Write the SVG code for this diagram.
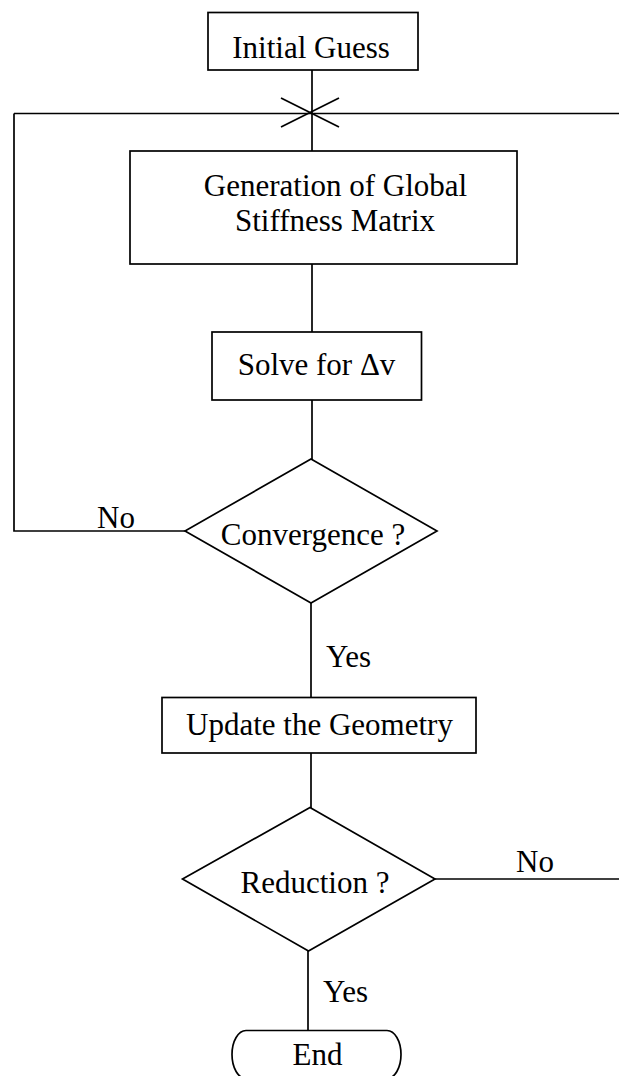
<svg xmlns="http://www.w3.org/2000/svg" width="619" height="1076" viewBox="0 0 619 1076">
<style>
.shape{fill:#fff;stroke:#000;stroke-width:1.7}
.line{fill:none;stroke:#000;stroke-width:1.7}
text{font-family:"Liberation Serif","Times New Roman",serif;font-size:31px;fill:#000}
.c{text-anchor:middle}
</style>
<rect width="619" height="1076" fill="#fff"/>
<g id="connectors">
<path class="line" d="M312 70 V151"/>
<path class="line" d="M14 113.5 H619"/>
<path class="line" d="M281 98 L339 127 M281 127 L339 98"/>
<path class="line" d="M14 113.5 V531 H185"/>
<path class="line" d="M312 264 V332"/>
<path class="line" d="M312 400 V459"/>
<path class="line" d="M311 603 V697.5"/>
<path class="line" d="M311 753 V808"/>
<path class="line" d="M435 879 H619"/>
<path class="line" d="M308 951 V1030.5"/>
<text x="116" y="528" class="c">No</text>
<text x="326" y="667">Yes</text>
<text x="535" y="872" class="c">No</text>
<text x="323" y="1002">Yes</text>
</g>
<g id="initial-guess">
<rect class="shape" x="208" y="12.5" width="210" height="57.5"/>
<text x="311" y="58" class="c">Initial Guess</text>
</g>
<g id="global-stiffness">
<rect class="shape" x="130" y="151" width="387" height="113"/>
<text x="335.5" y="196" class="c">Generation of Global</text>
<text x="335" y="231" class="c">Stiffness Matrix</text>
</g>
<g id="solve">
<rect class="shape" x="212" y="332" width="209.5" height="68"/>
<text x="316.5" y="375" class="c">Solve for Δv</text>
</g>
<g id="convergence">
<polygon class="shape" points="311,459 437,531 311,603 185,531"/>
<text x="313" y="545" class="c">Convergence ?</text>
</g>
<g id="update-geometry">
<rect class="shape" x="162" y="697.5" width="314" height="55.5"/>
<text x="319.5" y="735" class="c">Update the Geometry</text>
</g>
<g id="reduction">
<polygon class="shape" points="310,807.5 435,879 308.5,951 182.5,879"/>
<text x="315" y="893" class="c">Reduction ?</text>
</g>
<g id="end">
<path class="shape" d="M246 1030.5 H387 A14 24 0 0 1 387 1078.5 H246 A14 24 0 0 1 246 1030.5 Z"/>
<text x="317.5" y="1065" class="c">End</text>
</g>
</svg>
